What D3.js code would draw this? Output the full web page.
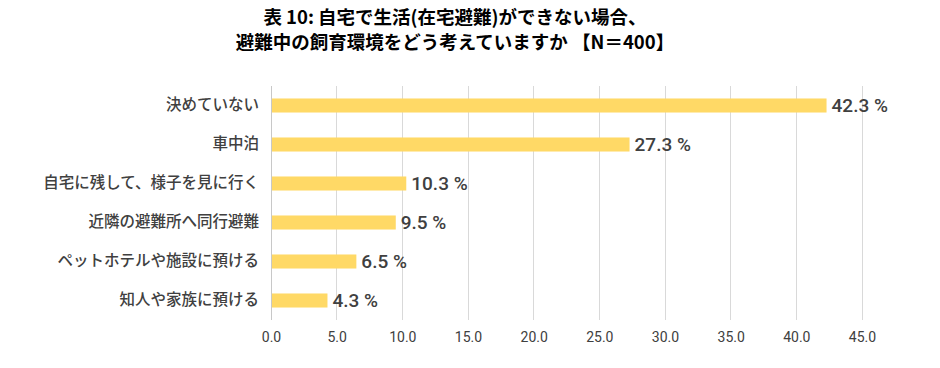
<!DOCTYPE html>
<html><head><meta charset="utf-8">
<script src="https://cdn.jsdelivr.net/npm/d3@7"></script>
<style>body{margin:0;background:#fff;}svg{display:block;}</style>
</head><body>
<svg id="chart" width="940" height="368"></svg>
<script>
const categories = ["決めていない","車中泊","自宅に残して、様子を見に行く","近隣の避難所へ同行避難","ペットホテルや施設に預ける","知人や家族に預ける"];
const values = [42.3, 27.3, 10.3, 9.5, 6.5, 4.3];
const tickValues = [0,5,10,15,20,25,30,35,40,45];
const titleLines = ["表 10: 自宅で生活(在宅避難)ができない場合、","避難中の飼育環境をどう考えていますか 【N＝400】"];

const svg = d3.select("#chart");
const font = "'Noto Sans CJK JP','Noto Sans',sans-serif";
const x = d3.scaleLinear().domain([0,45]).range([271, 862]);
const y = d3.scaleBand().domain(categories).range([86, 320]).paddingInner(0.64).paddingOuter(0.32);

// title
svg.append("g").selectAll("text").data(titleLines).join("text")
  .attr("x", 455).attr("y",(d,i)=>24 + i*25)
  .attr("text-anchor","middle").attr("font-family",font)
  .attr("font-size",18.5).attr("font-weight","bold").attr("fill","#000")
  .text(d=>d);

// gridlines
svg.append("g").selectAll("line").data(tickValues).join("line")
  .attr("x1",d=>x(d)).attr("x2",d=>x(d)).attr("y1",86).attr("y2",320)
  .attr("stroke",d=>d===0?"#c8c8c8":"#d9d9d9").attr("stroke-width",1)
  .attr("shape-rendering","crispEdges");

// x axis labels
const xa = svg.append("g").attr("transform","translate(0,320)")
  .call(d3.axisBottom(x).tickValues(tickValues).tickFormat(d3.format(".1f")).tickSize(0).tickPadding(12));
xa.select(".domain").remove();
xa.selectAll("text").attr("font-family","'Liberation Sans Narrow','Roboto',sans-serif").attr("font-size",14).attr("fill","#404040");

// y axis labels
const ya = svg.append("g").attr("transform","translate(271,0)")
  .call(d3.axisLeft(y).tickSize(0).tickPadding(12));
ya.select(".domain").remove();
ya.selectAll("text").attr("font-family",font).attr("font-size",15.5).attr("font-weight",500).attr("fill","#404040");

// bars
svg.append("g").selectAll("rect").data(values).join("rect")
  .attr("x",x(0)+1).attr("y",(d,i)=>y(categories[i]))
  .attr("width",d=>x(d)-x(0)-1).attr("height",y.bandwidth())
  .attr("fill","#FFD966");

// value labels
svg.append("g").selectAll("text").data(values).join("text")
  .attr("x",d=>x(d)+5).attr("y",(d,i)=>y(categories[i])+y.bandwidth()/2)
  .attr("dy","0.36em").attr("font-family","'Roboto','Noto Sans',sans-serif")
  .attr("font-size",19).attr("font-weight",500).attr("fill","#404040")
  .text(d=>d.toFixed(1)+" %");
</script>
</body></html>
